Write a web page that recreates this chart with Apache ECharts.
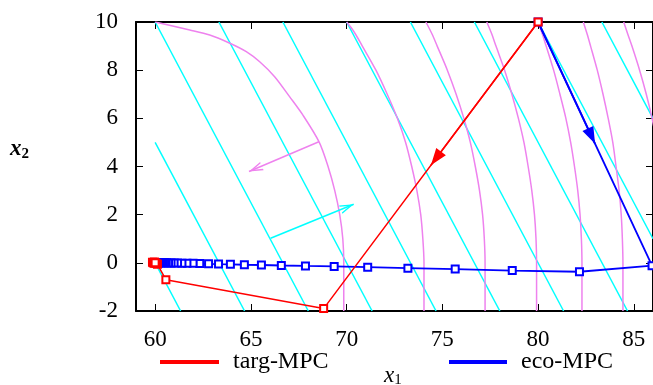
<!DOCTYPE html>
<html>
<head>
<meta charset="utf-8">
<script src="https://cdn.jsdelivr.net/npm/echarts@6/dist/echarts.min.js"></script>
<style>
html,body{margin:0;padding:0;background:#fff;}
#chart{width:653px;height:385px;}
</style>
</head>
<body>
<div id="chart"></div>
<script>
// Tick positions
const xTicks = [60, 65, 70, 75, 80, 85];
const yTicks = [-2, 0, 2, 4, 6, 8, 10];

// Closed-loop state trajectories (x1, x2)
const targMPC = [[80, 10], [68.8, -1.9], [60.56, -0.7], [60.12, -0.06], [60.05, -0.03], [59.96, 0.03],
  [59.86, 0.02], [59.9, 0.0], [59.95, -0.02], [60, 0]];
const ecoMPC = [[80, 10], [85.95, -0.12], [82.16, -0.37], [78.65, -0.32], [75.67, -0.26], [73.2, -0.22],
  [71.1, -0.18], [69.35, -0.15], [67.85, -0.13], [66.59, -0.11], [65.55, -0.09], [64.66, -0.08],
  [63.93, -0.06], [63.31, -0.05], [62.79, -0.04], [62.33, -0.03], [61.98, -0.02], [61.66, -0.02],
  [61.4, -0.02], [61.17, -0.01], [60.99, -0.01], [60.83, -0.01], [60.7, -0.01], [60.58, 0],
  [60.49, 0], [60.41, 0], [60.35, 0], [60.29, 0], [60.24, 0], [60.2, 0], [60.17, 0], [60.14, 0], [60.12, 0], [60.1, 0]];

// Level lines of the linear stage cost (segments inside the state box)
const cyanLevels = [
  [[60, 0], [61.33, -2]],
  [[60, 5], [64.67, -2]],
  [[60, 10], [68, -2]],
  [[63.33, 10], [71.33, -2]],
  [[66.67, 10], [74.67, -2]],
  [[70, 10], [78, -2]],
  [[73.33, 10], [81.33, -2]],
  [[76.67, 10], [84.67, -2]],
  [[80, 10], [86, 1]],
  [[83.33, 10], [86, 6]]
];

// Level curves of the economic cost
const violet0 = [[60, 10], [61.81, 9.67], [62.85, 9.46], [63.9, 9.12], [64.76, 8.77], [65.46, 8.35], [66.24, 7.73],
  [67.02, 6.9], [67.71, 6.14], [68.56, 5.02], [69.03, 4.0], [69.38, 3.0], [69.64, 2.0], [69.8, 1.0],
  [69.85, 0], [69.85, -2]];
const violet1 = [[70.0, 10], [70.25, 9.75], [70.49, 9.46], [70.82, 9], [71.53, 8], [72.12, 7], [72.65, 6],
  [73.08, 5], [73.4, 4], [73.67, 3], [73.87, 2], [73.98, 1], [74.04, 0], [74.04, -2]];
const violet2 = [[74.14, 10], [74.46, 9.5], [74.73, 9], [75.26, 8], [75.72, 7], [76.12, 6], [76.46, 5],
  [76.72, 4], [76.94, 3], [77.1, 2], [77.19, 1], [77.23, 0], [77.23, -2]];
const violet3 = [[77.32, 10], [77.58, 9.5], [77.8, 9], [78.25, 8], [78.63, 7], [78.97, 6], [79.26, 5],
  [79.48, 4], [79.67, 3], [79.81, 2], [79.89, 1], [79.92, 0], [79.92, -2]];
const violet4 = [[80.0, 10], [80.22, 9.5], [80.42, 9], [80.81, 8], [81.14, 7], [81.45, 6], [81.7, 5],
  [81.9, 4], [82.07, 3], [82.19, 2], [82.26, 1], [82.29, 0], [82.29, -2]];
const violet5 = [[82.36, 10], [82.56, 9.5], [82.74, 9], [83.09, 8], [83.39, 7], [83.66, 6], [83.9, 5],
  [84.07, 4], [84.23, 3], [84.34, 2], [84.4, 1], [84.43, 0], [84.43, -2]];
const violet6 = [[84.47, 10], [84.68, 9.5], [84.9, 9], [85.3, 8], [85.65, 7], [85.95, 6], [86.2, 5]];

// Descent-direction hints
const violetArrow = [[68.55, 5.03], [64.9, 3.79]];
const cyanArrow = [[66.03, 1.02], [70.37, 2.43]];

const SERIF = 'Liberation Serif';
const midpoint = (a, b) => [(a[0] + b[0]) / 2, (a[1] + b[1]) / 2];
// Arrow heads drawn in a square box with the tip at the box centre
// (two zero-area corner marks fix the box extent).
const openHead = 'path://M14,14 L18.5,28 L17,28 L14,18.6 L11,28 L9.5,28 Z M0,0 L0.01,0 L0,0.01 Z M28,0 L27.99,0 L28,0.01 Z';
const solidHead = 'path://M17,17 L23,34 L11,34 Z M0,0 L0.01,0 L0,0.01 Z M34,0 L33.99,0 L34,0.01 Z';

const violetSeries = [violet0, violet1, violet2, violet3, violet4, violet5, violet6].map(d => ({
  type: 'line', data: d, smooth: 0.3, symbol: 'none', z: 2, silent: true,
  lineStyle: { color: '#ee82ee', width: 1.5 }
}));

const chart = echarts.init(document.getElementById('chart'), null, { renderer: 'canvas' });
chart.setOption({
  animation: false,
  backgroundColor: '#fff',
  grid: { left: 136, right: 0, top: 22, bottom: 74, containLabel: false },
  legend: [
    { data: ['targ-MPC'], left: 155, top: 345, icon: 'rect', itemWidth: 57, itemHeight: 2,
      textStyle: { fontFamily: SERIF, fontSize: 24, color: '#000', padding: [0, 0, 0, 10] } },
    { data: ['eco-MPC'], left: 444, top: 345, icon: 'rect', itemWidth: 56, itemHeight: 2,
      textStyle: { fontFamily: SERIF, fontSize: 24, color: '#000', padding: [0, 0, 0, 10] } }
  ],
  xAxis: [
    { type: 'value', min: 59, max: 86, position: 'bottom',
      axisLine: { onZero: false, lineStyle: { color: '#000', width: 2 } },
      axisTick: { inside: true, length: 7, customValues: xTicks, lineStyle: { color: '#000', width: 1 } },
      axisLabel: { customValues: xTicks, margin: 17, fontFamily: SERIF, fontSize: 23, color: '#000' },
      splitLine: { show: false } },
    { type: 'value', min: 59, max: 86, position: 'top',
      axisLine: { onZero: false, lineStyle: { color: '#000', width: 2 } },
      axisTick: { inside: true, length: 7, customValues: xTicks, lineStyle: { color: '#000', width: 1 } },
      axisLabel: { show: false }, splitLine: { show: false } }
  ],
  yAxis: [
    { type: 'value', min: -2, max: 10, interval: 2, position: 'left',
      axisLine: { onZero: false, lineStyle: { color: '#000', width: 2 } },
      axisTick: { inside: true, length: 7, customValues: yTicks, lineStyle: { color: '#000', width: 1 } },
      axisLabel: { customValues: yTicks, margin: 18, fontFamily: SERIF, fontSize: 23, color: '#000' },
      splitLine: { show: false } },
    { type: 'value', min: -2, max: 10, interval: 2, position: 'right',
      axisLine: { onZero: false, lineStyle: { color: '#000', width: 2 } },
      axisTick: { inside: true, length: 7, customValues: yTicks, lineStyle: { color: '#000', width: 1 } },
      axisLabel: { show: false }, splitLine: { show: false } }
  ],
  graphic: [
    { type: 'text', left: 384, top: 364, style: {
      text: '{a|x}{b|1}',
      rich: { a: { fontFamily: SERIF, fontStyle: 'italic', fontSize: 23, fill: '#000' },
              b: { fontFamily: SERIF, fontSize: 15, fill: '#000', padding: [10, 0, 0, 0] } } } },
    { type: 'text', left: 10, top: 138, style: {
      text: '{a|x}{b|2}',
      rich: { a: { fontFamily: SERIF, fontStyle: 'italic', fontWeight: 'bold', fontSize: 23, fill: '#000' },
              b: { fontFamily: SERIF, fontWeight: 'bold', fontSize: 15, fill: '#000', padding: [10, 0, 0, 0] } } } }
  ],
  series: [
    { type: 'lines', coordinateSystem: 'cartesian2d', z: 1, silent: true,
      data: cyanLevels.map(c => ({ coords: c })),
      lineStyle: { color: '#00ffff', width: 1.5, opacity: 1 } },
    ...violetSeries,
    { type: 'lines', coordinateSystem: 'cartesian2d', z: 3, silent: true,
      symbol: ['none', openHead], symbolSize: 28,
      data: [{ coords: violetArrow }],
      lineStyle: { color: '#ee82ee', width: 1.5, opacity: 1 } },
    { type: 'lines', coordinateSystem: 'cartesian2d', z: 3, silent: true,
      symbol: ['none', openHead], symbolSize: 28,
      data: [{ coords: cyanArrow }],
      lineStyle: { color: '#00ffff', width: 1.5, opacity: 1 } },
    { name: 'eco-MPC', type: 'line', data: ecoMPC, z: 4, color: '#0000ff',
      symbol: 'emptyRect', symbolSize: 7, showAllSymbol: true,
      lineStyle: { color: '#0000ff', width: 1.8 },
      itemStyle: { color: '#0000ff', borderColor: '#0000ff', borderWidth: 1.5 } },
    { type: 'lines', coordinateSystem: 'cartesian2d', z: 4, silent: true,
      symbol: ['none', solidHead], symbolSize: 34,
      data: [{ coords: [ecoMPC[0], midpoint(ecoMPC[0], ecoMPC[1])] }],
      lineStyle: { color: '#0000ff', width: 1.8, opacity: 1 } },
    { name: 'targ-MPC', type: 'line', data: targMPC, z: 5, color: '#ff0000',
      symbol: 'emptyRect', symbolSize: 7, showAllSymbol: true,
      lineStyle: { color: '#ff0000', width: 1.5 },
      itemStyle: { color: '#ff0000', borderColor: '#ff0000', borderWidth: 1.5 } },
    { type: 'lines', coordinateSystem: 'cartesian2d', z: 5, silent: true,
      symbol: ['none', solidHead], symbolSize: 34,
      data: [{ coords: [targMPC[0], midpoint(targMPC[0], targMPC[1])] }],
      lineStyle: { color: '#ff0000', width: 1.5, opacity: 1 } }
  ]
});
</script>
</body>
</html>
